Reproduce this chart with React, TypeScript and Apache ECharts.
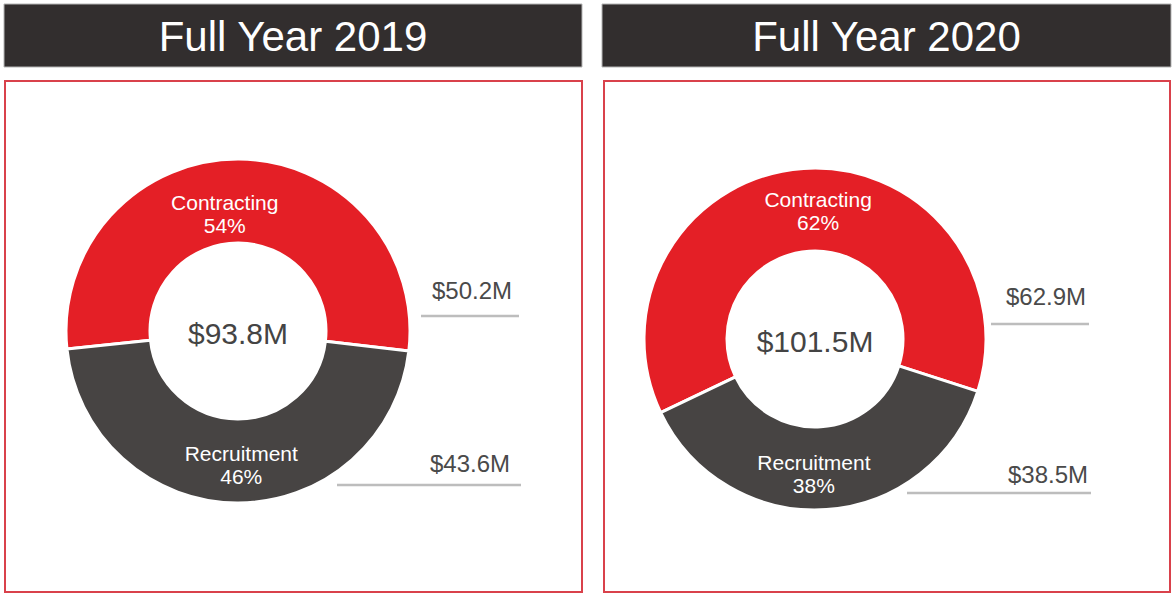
import React, { useEffect, useRef } from "react";
import * as echarts from "echarts";

const years = ["2019", "2020"];
const categories = ["Contracting", "Recruitment"];
const contracting = [50.2, 62.9];
const recruitment = [43.6, 38.5];
const totals = [93.8, 101.5];

const FONT = "'Liberation Sans', Arial, sans-serif";
const RED = "#e41f26";
const GRAY = "#474443";

// layout (positions only)
const panels = [
  { hx: 4, hw: 578, bx: 5, bw: 577, cx: 238, cy: 331, r0: 88, r: 172, start: 186,
    vals: [{ x: 472, y: 290, lx1: 421, lx2: 519, ly: 316 }, { x: 470, y: 463, lx1: 337, lx2: 521, ly: 485 }],
    offs: [[-14, 16], [4, 1]] },
  { hx: 602, hw: 569, bx: 604, bw: 566, cx: 815, cy: 339, r0: 88, r: 171, start: 205.5,
    vals: [{ x: 1046, y: 296, lx1: 991, lx2: 1089, ly: 324 }, { x: 1048, y: 474, lx1: 907, lx2: 1091, ly: 493 }],
    offs: [[12, 4], [-10, 3]] },
];

export default function App() {
  const ref = useRef<HTMLDivElement>(null);
  useEffect(() => {
    if (!ref.current) return;
    const chart = echarts.init(ref.current, undefined, { renderer: "svg" });
    const graphic: any[] = [];
    const series: any[] = [];
    panels.forEach((p, i) => {
      graphic.push({
        type: "rect", shape: { x: p.hx, y: 4, width: p.hw, height: 63 },
        style: { fill: "#322e2e", stroke: "#b5b5b5", lineWidth: 1 }, z: 1,
      });
      graphic.push({
        type: "text", x: p.hx + p.hw / 2, y: 36, z: 2,
        style: { text: "Full Year " + years[i], fill: "#ffffff", fontSize: 42, fontFamily: FONT, align: "center", verticalAlign: "middle" },
      });
      graphic.push({
        type: "rect", shape: { x: p.bx, y: 81, width: p.bw, height: 511 },
        style: { fill: "#ffffff", stroke: "#d9414b", lineWidth: 2 }, z: 0,
      });
      graphic.push({
        type: "text", x: p.cx, y: p.cy + 2, z: 5,
        style: { text: "$" + totals[i].toFixed(1) + "M", fill: "#444444", fontSize: 30, fontFamily: FONT, align: "center", verticalAlign: "middle" },
      });
      const vs = [contracting[i], recruitment[i]];
      p.vals.forEach((v, j) => {
        graphic.push({
          type: "text", x: v.x, y: v.y, z: 5,
          style: { text: "$" + vs[j].toFixed(1) + "M", fill: "#4a4a4a", fontSize: 24, fontFamily: FONT, align: "center", verticalAlign: "middle" },
        });
        graphic.push({
          type: "line", z: 5, shape: { x1: v.lx1, y1: v.ly, x2: v.lx2, y2: v.ly },
          style: { stroke: "#bdbdbd", lineWidth: 2.5 },
        });
      });
      series.push({
        type: "pie",
        center: [p.cx, p.cy],
        radius: [p.r0, p.r],
        startAngle: p.start,
        clockwise: true,
        percentPrecision: 0,
        silent: true,
        emphasis: { disabled: true },
        z: 3,
        itemStyle: { borderColor: "#ffffff", borderWidth: 3 },
        label: {
          show: true, position: "inside", formatter: "{b}\n{d}%", color: "#ffffff",
          fontSize: 21, lineHeight: 23, fontFamily: FONT, align: "center",
        },
        labelLine: { show: false },
        labelLayout: (params: any) => {
          const o = p.offs[params.dataIndex] || [0, 0];
          return { dx: o[0], dy: o[1] };
        },
        data: [
          { name: categories[0], value: contracting[i], itemStyle: { color: RED } },
          { name: categories[1], value: recruitment[i], itemStyle: { color: GRAY } },
        ],
      });
    });
    chart.setOption({
      animation: false,
      backgroundColor: "#ffffff",
      graphic,
      series,
    });
    return () => chart.dispose();
  }, []);
  return (
    <div
      ref={ref}
      style={{ position: "absolute", left: 0, top: 0, width: 1174, height: 594 }}
    />
  );
}
